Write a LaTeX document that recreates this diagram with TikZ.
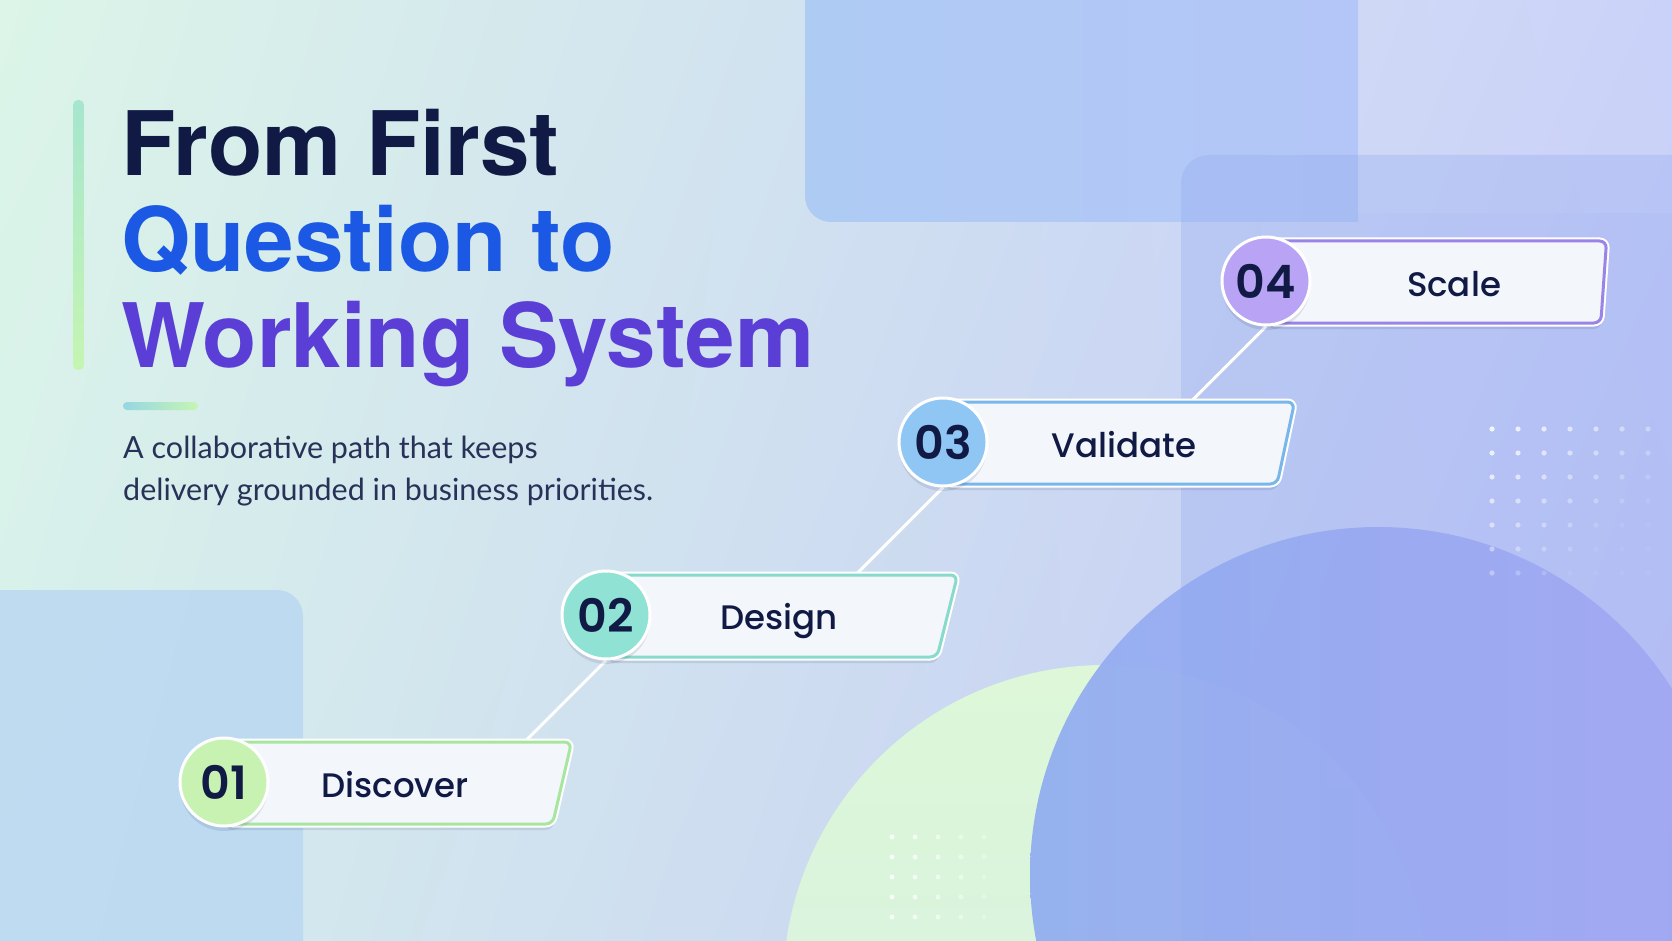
\documentclass[tikz,border=0pt]{standalone}
\usepackage{fontspec}
\setmainfont{Lato}
\newfontfamily\headfont{TeX Gyre Heros}
\newfontfamily\numfont{Poppins SemiBold}
\newfontfamily\labelfont{Poppins Medium}
\usetikzlibrary{shapes.geometric}
\usetikzlibrary{shadows}
\usetikzlibrary{shadings}
\definecolor{navy}{HTML}{101A44}
\definecolor{titleblue}{HTML}{1B59E4}
\definecolor{titlepurple}{HTML}{5B3ED6}
\definecolor{bgmint}{HTML}{DCF5E8}
\definecolor{bgsea}{HTML}{D6EFEC}
\definecolor{bglilac}{HTML}{C6CEF9}
\definecolor{bgviolet}{HTML}{C2C4F6}
\definecolor{panelblue}{HTML}{AECBF4}
\definecolor{panelblue2}{HTML}{B4C6F7}
\definecolor{panelside}{HTML}{8FA8F0}
\definecolor{cornerblue}{HTML}{BAD8F2}
\definecolor{blobgreen}{HTML}{DDF7D8}
\definecolor{blobgreen2}{HTML}{D5F0E4}
\definecolor{blobblue}{HTML}{90ADF0}
\definecolor{blobviolet}{HTML}{ABA7F4}
\definecolor{barmint}{HTML}{A6E6CE}
\definecolor{barlime}{HTML}{C6F5B2}
\definecolor{barteal}{HTML}{96D6E4}
\definecolor{boxfill}{HTML}{F3F6FB}
\definecolor{stepgreen}{HTML}{C8F2B2}
\definecolor{stepgreenline}{HTML}{A8E6A0}
\definecolor{stepteal}{HTML}{8FE2D4}
\definecolor{steptealline}{HTML}{88DACC}
\definecolor{stepsky}{HTML}{90C6F4}
\definecolor{stepskyline}{HTML}{79B6EA}
\definecolor{steplilac}{HTML}{B8A3F4}
\definecolor{steplilacline}{HTML}{9B84E8}
\pgfdeclarelayer{front}
\pgfsetlayers{main,front}
\tikzset{
  stepbox/.style={trapezium, trapezium left angle=90, trapezium stretches body,
    anchor=west, inner xsep=0pt, inner ysep=41pt, rounded corners=7pt,
    fill=boxfill, line width=3pt,
    drop shadow={shadow xshift=0pt, shadow yshift=-6pt, opacity=0.10, fill=navy},
    preaction={draw=white, line width=7pt}},
  stepnum/.style={circle, minimum size=88pt, inner sep=0pt, draw=white, line width=3pt,
    drop shadow={shadow xshift=0pt, shadow yshift=-5pt, opacity=0.10, fill=navy},
    text=navy, font=\numfont\fontsize{46}{46}\selectfont},
  steptext/.style={anchor=base, inner sep=0pt, text=navy,
    font=\labelfont\fontsize{34}{34}\selectfont},
  headline/.style={anchor=base west, inner sep=0pt,
    font=\headfont\bfseries\fontsize{89}{96}\selectfont},
  subline/.style={anchor=base west, inner sep=0pt, text=navy!90,
    font=\fontsize{30.5}{41.5}\selectfont},
  link/.style={draw=white, line width=3pt},
}

\begin{document}
\begin{tikzpicture}[x=1pt,y=-1pt]
\useasboundingbox (0,0) rectangle (1672,941);

%% background
\shade [upper left=bgmint, lower left=bgsea, upper right=bglilac, lower right=bgviolet]
  (0,0) rectangle (1672,941);
% panels
\shade [left color=panelblue, right color=panelblue2]
  (805,-40) -- (805,196) arc[start angle=180, end angle=90, radius=26] -- (1358,222) -- (1358,-40) -- cycle;
\fill [white, opacity=0.10] (1358,-40) rectangle (1700,213);
\fill [cornerblue, opacity=0.85]
  (-40,590) -- (277,590) arc[start angle=270, end angle=360, radius=26] -- (303,1000) -- (-40,1000) -- cycle;
% blobs
\shade [top color=blobgreen, bottom color=blobgreen2] (1105,987) circle[radius=322];
\shade [left color=blobblue, right color=blobviolet, opacity=0.92] (1378,875) circle[radius=348];
\fill [panelside, opacity=0.30]
  (1181,1000) -- (1181,183) arc[start angle=180, end angle=270, radius=28] -- (1700,155) -- (1700,1000) -- cycle;
% dots
\foreach \i in {0,...,6}
  \foreach \j in {0,...,6} {
    \pgfmathsetmacro\op{max(0.05,0.85-0.085*(\i+\j))}
    \fill [white, opacity=\op] (1492+26*\i,429+24*\j) circle[radius=2.6];
  }
\foreach \i in {0,...,4}
  \foreach \j in {0,...,4} {
    \pgfmathsetmacro\op{0.8-0.13*\i}
    \fill [white, opacity=\op] (892+23*\i,837+20*\j) circle[radius=2.5];
  }

%% heading
\shade [top color=barmint, bottom color=barlime, rounded corners=5pt] (73,100) rectangle (84,370);
\node [headline, text=navy] (title1) at (121,176) {From First};
\node [headline, text=titleblue] (title2) at (121,271) {Question to};
\node [headline, text=titlepurple] (title3) at (121,367) {Working System};
\shade [left color=barteal, right color=barlime, rounded corners=4pt] (123,402) rectangle (198,410);
\node [subline] (sub1) at (123,458.5) {A collaborative path that keeps};
\node [subline] (sub2) at (123,500) {delivery grounded in business priorities.};

%% steps
\begin{pgfonlayer}{front}
% 01
\node [stepbox, draw=stepgreenline, minimum width=346pt, trapezium right angle=103] (b1) at (224,783) {};
\node [stepnum, fill=stepgreen] (n1) at (224,782) {01};
\node [steptext] (t1) at (395,797) {Discover};
% 02
\node [stepbox, draw=steptealline, minimum width=350pt, trapezium right angle=104] (b2) at (606,616) {};
\node [stepnum, fill=stepteal] (n2) at (606,615) {02};
\node [steptext] (t2) at (779,629) {Design};
% 03
\node [stepbox, draw=stepskyline, minimum width=350pt, trapezium right angle=102] (b3) at (943,443) {};
\node [stepnum, fill=stepsky] (n3) at (943,442) {03};
\node [steptext] (t3) at (1124,457) {Validate};
% 04
\node [stepbox, draw=steplilacline, minimum width=339pt, trapezium right angle=94] (b4) at (1266,282) {};
\node [stepnum, fill=steplilac] (n4) at (1266,281) {04};
\node [steptext] (t4) at (1454,296) {Scale};
\end{pgfonlayer}

%% links
\draw [link] (n2.south) -- ++(135:150);
\draw [link] (n3.south) -- ++(135:150);
\draw [link] (n4.south) -- ++(135:150);

\end{tikzpicture}
\end{document}
